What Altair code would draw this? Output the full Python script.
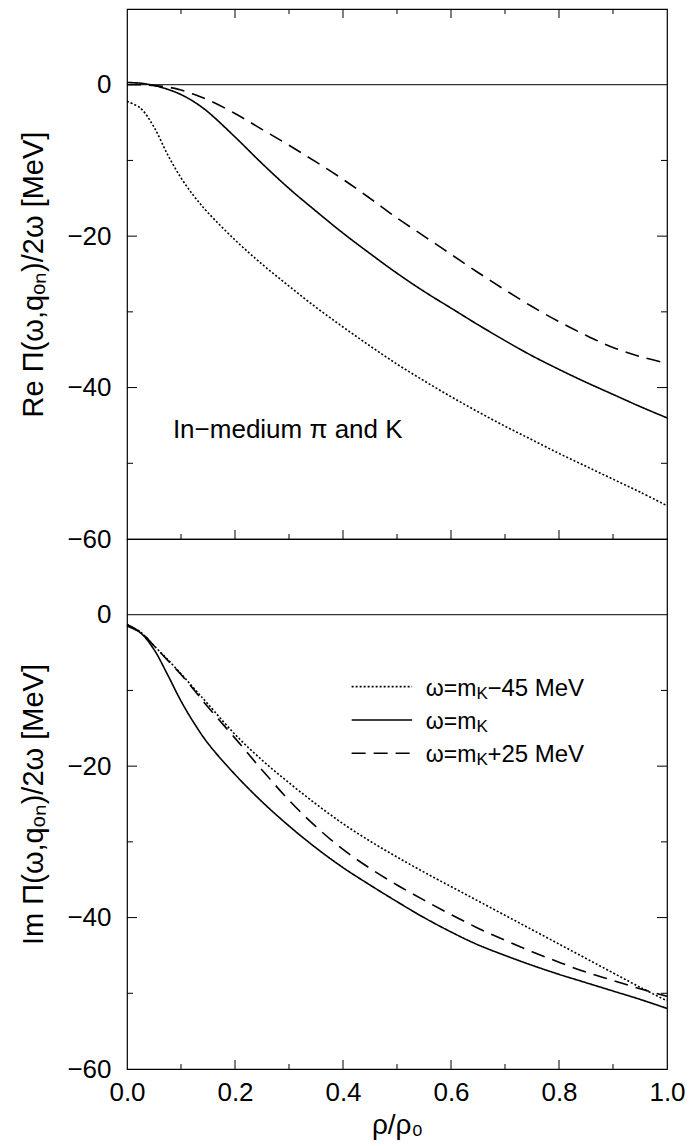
import altair as alt
import pandas as pd

# ---------------- data ----------------
rho = [0, 0.025, 0.05, 0.075, 0.1, 0.125, 0.15, 0.2, 0.25, 0.3, 0.35, 0.4,
       0.45, 0.5, 0.55, 0.6, 0.65, 0.7, 0.75, 0.8, 0.85, 0.9, 0.95, 1.0]

# Re Pi / 2 omega [MeV]
re_minus45 = [-2.2, -3.1, -5.6, -9.2, -12.3, -14.8, -16.9, -20.5, -23.7, -26.6, -29.4, -32.0,
              -34.5, -36.9, -39.1, -41.2, -43.2, -45.1, -46.9, -48.7, -50.4, -52.1, -53.8, -55.6]
re_mk = [0.3, 0.2, -0.1, -0.6, -1.3, -2.3, -3.6, -6.9, -10.4, -13.7, -16.7, -19.6,
         -22.3, -24.9, -27.3, -29.5, -31.7, -33.8, -35.8, -37.6, -39.3, -40.9, -42.5, -44.0]
re_plus25 = [0.0, 0.0, -0.1, -0.3, -0.7, -1.3, -2.0, -3.8, -5.9, -8.0, -10.2, -12.5,
             -15.0, -17.6, -20.0, -22.4, -24.8, -27.1, -29.3, -31.3, -33.1, -34.7, -35.9, -36.8]

# Im Pi / 2 omega [MeV]
im_minus45 = [-1.3, -2.3, -4.1, -5.9, -7.8, -9.8, -11.8, -15.8, -19.2, -22.2, -25.0, -27.6,
              -29.9, -32.0, -34.0, -35.9, -37.8, -39.7, -41.6, -43.5, -45.4, -47.3, -49.2, -51.0]
im_mk = [-1.5, -2.4, -4.6, -7.9, -11.4, -14.4, -17.0, -21.1, -24.7, -27.9, -30.8, -33.4,
         -35.7, -37.9, -40.0, -41.9, -43.6, -45.0, -46.3, -47.5, -48.6, -49.7, -50.8, -52.0]
im_plus25 = [-1.3, -2.3, -4.1, -6.0, -7.9, -10.0, -12.2, -16.3, -20.5, -24.5, -28.0, -31.0,
             -33.5, -35.7, -37.7, -39.6, -41.4, -43.0, -44.5, -45.9, -47.2, -48.3, -49.4, -50.4]

series = ["minus45", "mk", "plus25"]
legend_pre = ["ω=m", "ω=m", "ω=m"]
legend_sub = ["K", "K", "K"]
legend_post = ["−45 MeV", "", "+25 MeV"]

y_labels = [0, -20, -40, -60]
y_major = [-20, -40]
y_minor = [-10, -30, -50]
x_labels = [0.0, 0.2, 0.4, 0.6, 0.8, 1.0]
x_major = [0.2, 0.4, 0.6, 0.8]
x_minor = [0.1, 0.3, 0.5, 0.7, 0.9]

FONT = "Liberation Sans"
W, H = 540, 530
dash_scale = alt.Scale(domain=series, range=[[2, 2], [1, 0], [14, 8]])
xs = alt.Scale(domain=[0, 1], nice=False, zero=False)
ys = alt.Scale(domain=[-60, 10], nice=False, zero=False)


def long_df(a, b, c):
    rows = []
    for name, vals in zip(series, [a, b, c]):
        for r, v in zip(rho, vals):
            rows.append({"rho": r, "v": v, "series": name})
    return pd.DataFrame(rows)


def panel(vals, ytitle, bottom):
    df = long_df(*vals)
    if bottom:
        xax = alt.Axis(values=x_labels, format=".1f", domain=False, ticks=False,
                       grid=False, labelFontSize=26, labelPadding=10, labelFlush=False,
                       title="ρ/ρ₀", titleFontSize=28, titlePadding=6)
    else:
        xax = None
    yax = alt.Axis(values=y_labels, domain=False, ticks=False, grid=False,
                   labelFontSize=26, labelPadding=16, title=ytitle, titleFontSize=29,
                   titlePadding=18)

    def X(field=None, datum=None):
        if datum is not None:
            return alt.X(datum=datum, scale=xs, axis=xax)
        return alt.X(field, type="quantitative", scale=xs, axis=xax)

    def Y(field=None, datum=None):
        if datum is not None:
            return alt.Y(datum=datum, scale=ys, axis=yax)
        return alt.Y(field, type="quantitative", scale=ys, axis=yax)

    lines = alt.Chart(df).mark_line(color="black", strokeWidth=1.6,
                                    interpolate="catmull-rom").encode(
        x=X("rho"), y=Y("v"),
        strokeDash=alt.StrokeDash("series:N", scale=dash_scale, legend=None),
    )
    zero = alt.Chart(pd.DataFrame({"v": [0]})).mark_rule(color="black", strokeWidth=1).encode(
        y=Y("v"))
    layers = [zero, lines]
    # inward ticks on left and right
    for vals_t, ln in [(y_major, 10), (y_minor, 6)]:
        tdf = pd.DataFrame({"v": vals_t})
        layers.append(alt.Chart(tdf).mark_rule(color="black", strokeWidth=1).encode(
            y=Y("v"), x=alt.value(0), x2=alt.value(ln)))
        layers.append(alt.Chart(tdf).mark_rule(color="black", strokeWidth=1).encode(
            y=Y("v"), x=alt.value(W - ln), x2=alt.value(W)))
    for vals_t, ln in [(x_major, 9), (x_minor, 5)]:
        tdf = pd.DataFrame({"rho": vals_t})
        layers.append(alt.Chart(tdf).mark_rule(color="black", strokeWidth=1).encode(
            x=X("rho"), y=alt.value(H - ln), y2=alt.value(H)))
        if not bottom:
            layers.append(alt.Chart(tdf).mark_rule(color="black", strokeWidth=1).encode(
                x=X("rho"), y=alt.value(0), y2=alt.value(ln)))
    return layers, X, Y


top_layers, X, Y = panel((re_minus45, re_mk, re_plus25), "Re Π(ω,qₒₙ)/2ω [MeV]", False)
note = alt.Chart(pd.DataFrame({"t": ["In−medium π and K"]})).mark_text(
    align="left", baseline="middle", fontSize=26, font=FONT, color="black").encode(
    x=X(datum=0.085), y=Y(datum=-45.6), text="t:N")
top = alt.layer(*top_layers, note).properties(width=W, height=H)

bot_layers, X, Y = panel((im_minus45, im_mk, im_plus25), "Im Π(ω,qₒₙ)/2ω [MeV]", True)
leg_y = [-9.5, -13.9, -18.3]
leg_layers = []
for s, yv, pre, sub, post in zip(series, leg_y, legend_pre, legend_sub, legend_post):
    leg_layers.append(alt.Chart(pd.DataFrame({"series": [s]})).mark_rule(
        color="black", strokeWidth=1.6).encode(
        x=X(datum=0.416), x2=alt.X2(datum=0.528), y=Y(datum=yv),
        strokeDash=alt.StrokeDash("series:N", scale=dash_scale, legend=None)))
    tdf = pd.DataFrame({"pre": [pre], "sub": [sub], "post": [post]})
    base = alt.Chart(tdf)
    leg_layers.append(base.mark_text(align="right", baseline="alphabetic", dy=9, fontSize=23,
                                     font=FONT, color="black").encode(
        x=X(datum=0.647), y=Y(datum=yv), text="pre:N"))
    leg_layers.append(base.mark_text(align="left", baseline="alphabetic", dy=12, fontSize=17,
                                     font=FONT, color="black").encode(
        x=X(datum=0.647), y=Y(datum=yv), text="sub:N"))
    if post:
        leg_layers.append(base.mark_text(align="left", baseline="alphabetic", dx=11, dy=9,
                                         fontSize=24, font=FONT, color="black").encode(
            x=X(datum=0.647), y=Y(datum=yv), text="post:N"))
bottom = alt.layer(*bot_layers, *leg_layers).properties(width=W, height=H)

chart = alt.vconcat(top, bottom, spacing=0, bounds="flush").properties(
    padding={"left": 19, "top": 7, "right": 0, "bottom": 0}
).configure_view(stroke="black", strokeWidth=1.2).configure_axis(
    labelFont=FONT, titleFont=FONT, labelColor="black", titleColor="black",
    titleFontWeight="normal"
).configure_text(font=FONT)

chart.save("out.html", embed_options={"renderer": "svg", "actions": False})
